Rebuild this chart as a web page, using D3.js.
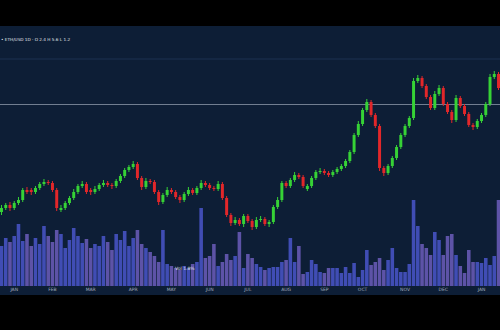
<!DOCTYPE html>
<html>
<head>
<meta charset="utf-8">
<script src="https://cdn.jsdelivr.net/npm/d3@7"></script>
<style>
  html, body { margin: 0; padding: 0; background: #000; }
  svg { display: block; }
</style>
</head>
<body>
<div id="chart"></div>
<script>
const opens = [48,52,55,52,57,60,70,70,68,72,
  76,78,77,70,50,52,57,62,68,74,
  76,70,68,71,75,77,75,74,79,84,
  90,93,96,82,73,79,78,68,58,65,
  70,68,63,60,66,70,67,72,77,75,
  72,71,76,62,45,37,40,36,44,39,
  33,40,41,36,38,53,60,77,74,80,
  85,83,71,74,82,88,89,87,85,88,
  91,94,99,108,125,136,150,158,145,134,
  92,87,94,102,113,125,134,142,179,182,
  174,163,152,166,172,156,148,140,162,154,
  146,135,133,139,145,156,183,186];
const closes = [52,55,52,57,60,70,68,68,72,76,
  78,77,70,52,52,57,62,68,74,76,
  68,68,71,75,77,75,74,79,84,90,
  93,96,82,73,79,78,68,58,65,70,
  68,63,60,66,70,67,72,77,75,72,
  71,76,62,45,37,40,36,44,39,33,
  40,41,36,38,53,60,77,74,80,85,
  83,74,74,82,88,89,87,85,88,91,
  94,99,108,125,136,150,158,145,134,92,
  87,94,102,113,125,134,142,179,182,174,
  163,152,166,172,156,148,140,162,154,146,
  135,133,139,145,156,183,186,172];
const highs = [55,57,58,59,63,72,73,72,74,78,
  81,80,79,72,55,59,64,71,76,79,
  78,72,74,77,80,79,77,81,86,92,
  95,99,98,84,82,81,80,70,67,73,
  72,70,65,68,73,72,74,80,79,77,
  74,79,78,64,47,43,42,46,46,41,
  43,44,43,40,55,63,79,79,82,88,
  87,85,76,84,90,92,91,89,90,93,
  96,101,110,127,139,152,161,160,147,136,
  94,96,104,115,127,136,144,182,185,184,
  176,165,169,175,174,158,150,165,164,156,
  148,137,141,147,158,186,189,188];
const lows = [45,50,49,50,55,58,66,65,66,70,
  74,75,68,49,48,50,55,60,66,72,
  66,65,66,69,73,73,71,72,77,82,
  88,91,80,70,71,76,66,55,56,63,
  66,61,57,58,64,65,65,70,73,70,
  69,69,60,43,34,35,34,33,37,30,
  31,38,34,33,36,51,58,72,72,78,
  81,72,69,72,80,86,85,83,83,86,
  89,92,97,106,123,134,148,143,132,89,
  84,85,92,100,111,123,132,140,177,172,
  161,150,150,164,154,146,137,138,152,144,
  133,130,131,137,143,154,181,170];
const volumes = [40,48,44,50,62,45,52,40,48,42,
  60,50,44,56,52,38,46,58,50,43,
  47,38,42,40,50,44,36,52,46,55,
  40,48,56,42,38,34,30,24,56,22,
  20,18,16,20,18,22,24,78,28,30,
  42,20,24,32,26,30,54,18,32,28,
  22,19,16,18,19,19,24,26,48,24,
  40,12,14,26,22,14,13,18,18,18,
  13,19,13,23,9,16,36,21,24,28,
  16,26,38,18,14,14,22,86,60,42,
  38,31,54,46,31,50,52,31,20,13,
  36,24,24,23,28,21,30,86];
const tickIndex = [3,12,21,31,40,49,58,67,76,85,95,104,113];
const tickLabels = ['JAN','FEB','MAR','APR','MAY','JUN','JUL','AUG','SEP','OCT','NOV','DEC','JAN'];
const refLevel = 156;
const gridLevels = [201];
const titleText = '\u2022 ETH/USD 1D \u00b7 O 2.4 H 5.6 L 1.2';
const volNote = 'Vol 1.8%';

const W = 500, H = 330;
const panel = { top: 26, bottom: 295 };
const N = closes.length;

const svg = d3.select('#chart').append('svg')
  .attr('width', W).attr('height', H);

svg.append('rect').attr('width', W).attr('height', H).attr('fill', '#000');
svg.append('rect')
  .attr('x', 0).attr('y', panel.top)
  .attr('width', W).attr('height', panel.bottom - panel.top)
  .attr('fill', '#0d1e36');

const x = d3.scaleBand().domain(d3.range(N)).range([0, W]).paddingInner(0.3);
const y = d3.scaleLinear().domain([0, 235]).range([260, 25]);
const yVol = d3.scaleLinear().domain([0, 86]).range([286, 200]);

// faint grid
svg.append('g').selectAll('line').data(gridLevels).join('line')
  .attr('x1', 0).attr('x2', W)
  .attr('y1', d => y(d)).attr('y2', d => y(d))
  .attr('stroke', '#1d3050').attr('stroke-width', 1);

// volume bars
svg.append('g').selectAll('rect').data(volumes).join('rect')
  .attr('x', (d, i) => x(i) - 0.3)
  .attr('y', d => yVol(d))
  .attr('width', x.bandwidth() + 0.6)
  .attr('height', d => yVol(0) - yVol(d))
  .attr('fill', (d, i) => closes[i] >= opens[i] ? '#4652c2' : '#6659b4')
  .attr('opacity', 0.9);

// reference line
svg.append('line')
  .attr('x1', 0).attr('x2', W)
  .attr('y1', y(refLevel) + 0.5).attr('y2', y(refLevel) + 0.5)
  .attr('stroke', '#8b96a8').attr('stroke-width', 1).attr('opacity', 0.8);

// candles
const candle = svg.append('g').selectAll('g').data(d3.range(N)).join('g');
const col = i => closes[i] >= opens[i] ? '#36d236' : '#e2272a';
candle.append('line')
  .attr('x1', i => x(i) + x.bandwidth() / 2).attr('x2', i => x(i) + x.bandwidth() / 2)
  .attr('y1', i => y(highs[i])).attr('y2', i => y(lows[i]))
  .attr('stroke', col).attr('stroke-width', 1);
candle.append('rect')
  .attr('x', i => x(i))
  .attr('y', i => y(Math.max(opens[i], closes[i])))
  .attr('width', x.bandwidth())
  .attr('height', i => Math.max(1, Math.abs(y(opens[i]) - y(closes[i]))))
  .attr('fill', col);

// x axis labels
svg.append('g').selectAll('text').data(tickIndex).join('text')
  .attr('x', i => x(i) + x.bandwidth() / 2)
  .attr('y', 291)
  .attr('text-anchor', 'middle')
  .attr('font-family', 'DejaVu Sans, sans-serif')
  .attr('font-size', 4.5)
  .attr('fill', '#a3acbd')
  .text((d, k) => tickLabels[k]);

// title and volume note
svg.append('text')
  .attr('x', 1).attr('y', 41)
  .attr('font-family', 'DejaVu Sans, sans-serif')
  .attr('font-size', 4.2)
  .attr('fill', '#e2e6ec')
  .text(titleText);

svg.append('text')
  .attr('x', 175).attr('y', 270)
  .attr('font-family', 'DejaVu Sans, sans-serif')
  .attr('font-size', 4.5)
  .attr('fill', '#e0e4ea')
  .text(volNote);
</script>
</body>
</html>
